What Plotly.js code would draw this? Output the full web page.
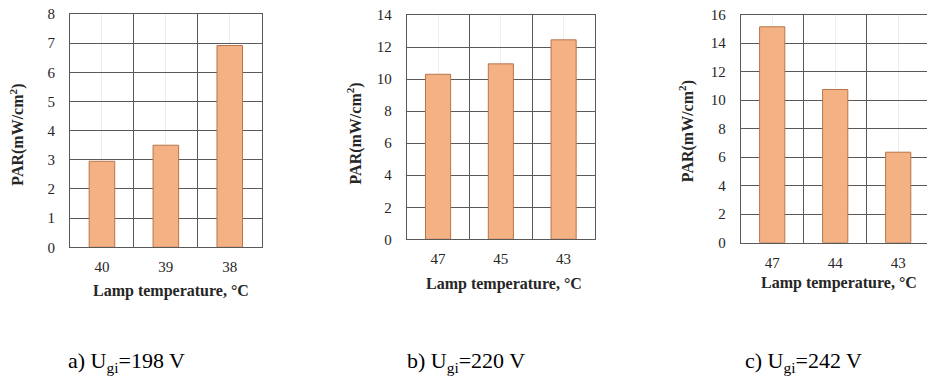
<!DOCTYPE html>
<html>
<head>
<meta charset="utf-8">
<script src="https://cdn.plot.ly/plotly-3.0.1.min.js"></script>
<style>html,body{margin:0;padding:0;background:#fff;}#chart{width:927px;height:376px;}</style>
</head>
<body>
<div id="chart"></div>
<script>
// Data
const cats1 = ['40', '39', '38'];
const vals1 = [2.95, 3.5, 6.92];
const cats2 = ['47', '45', '43'];
const vals2 = [10.3, 10.95, 12.45];
const cats3 = ['47', '44', '43'];
const vals3 = [15.15, 10.75, 6.35];
const captions = ['a) U<sub>gi</sub>=198 V', 'b) U<sub>gi</sub>=220 V', 'c) U<sub>gi</sub>=242 V'];
const yTitle = 'PAR(mW/cm<sup>2</sup>)';
const xTitle = 'Lamp temperature, °C';

const FONT = '"Liberation Serif", "Times New Roman", serif';
const GRID = '#595959';
const TXT = '#262626';

function barTrace(cats, vals, n) {
  return {
    type: 'bar',
    x: cats.map((_, i) => i),
    y: vals,
    width: 0.4,
    xaxis: 'x' + (n === 1 ? '' : n),
    yaxis: 'y' + (n === 1 ? '' : n),
    marker: {color: '#F4B183', line: {color: '#B8754A', width: 1}},
    hoverinfo: 'skip'
  };
}

function xAxis(cats, dom, rng) {
  return {
    domain: dom,
    range: rng,
    tickmode: 'array',
    tickvals: cats.map((_, i) => i),
    ticktext: cats,
    showgrid: true,
    gridcolor: '#eeeeee',
    gridwidth: 1,
    zeroline: false,
    showline: true,
    linecolor: GRID,
    linewidth: 1,
    mirror: true,
    ticks: '',
    ticklabelstandoff: 6,
    tickfont: {family: FONT, size: 15, color: TXT},
    minor: {tickmode: 'linear', tick0: 0.5, dtick: 1, showgrid: true, gridcolor: GRID, gridwidth: 1, ticks: ''},
    fixedrange: true
  };
}

function yAxis(dom, max, dt, anchor) {
  return {
    domain: dom,
    range: [0, max],
    dtick: dt,
    tick0: 0,
    showgrid: true,
    gridcolor: GRID,
    gridwidth: 1,
    zeroline: false,
    showline: true,
    linecolor: GRID,
    linewidth: 1,
    mirror: true,
    ticks: '',
    ticklabelstandoff: 11,
    anchor: anchor,
    tickfont: {family: FONT, size: 15, color: TXT},
    fixedrange: true
  };
}

const W = 927, H = 376;
const px = v => v / W;
const py = v => 1 - v / H;

const layout = {
  width: W, height: H,
  margin: {l: 0, r: 0, t: 0, b: 0},
  paper_bgcolor: '#ffffff',
  plot_bgcolor: '#ffffff',
  showlegend: false,
  font: {family: FONT, color: TXT},
  xaxis: Object.assign(xAxis(cats1, [px(70), px(261.7)], [-0.5, 2.5]), {anchor: 'y'}),
  yaxis: yAxis([py(247.3), py(14)], 8, 1, 'x'),
  xaxis2: Object.assign(xAxis(cats2, [px(406.7), px(595)], [-0.5, 2.5]), {anchor: 'y2'}),
  yaxis2: yAxis([py(239.3), py(15)], 14, 2, 'x2'),
  xaxis3: Object.assign(xAxis(cats3, [px(740.7), 1], [-0.5, 2.457]), {anchor: 'y3'}),
  yaxis3: yAxis([py(242.7), py(14.7)], 16, 2, 'x3'),
  annotations: []
};

const yTitlePos = [[16.7, 135], [355, 133.5], [686.7, 131.5]];
const xTitlePos = [[171, 291], [504, 284], [839, 283]];
const capPos = [[66, 362], [404.5, 362], [742.5, 362]];

for (let i = 0; i < 3; i++) {
  layout.annotations.push({
    xref: 'paper', yref: 'paper', x: px(yTitlePos[i][0]), y: py(yTitlePos[i][1]),
    text: '<b>' + yTitle + '</b>', textangle: -90, showarrow: false,
    xanchor: 'center', yanchor: 'middle',
    font: {family: FONT, size: 16, color: TXT}
  });
  layout.annotations.push({
    xref: 'paper', yref: 'paper', x: px(xTitlePos[i][0]), y: py(xTitlePos[i][1]),
    text: '<b>' + xTitle + '</b>', showarrow: false,
    xanchor: 'center', yanchor: 'middle',
    font: {family: FONT, size: 16, color: TXT}
  });
  layout.annotations.push({
    xref: 'paper', yref: 'paper', x: px(capPos[i][0]), y: py(capPos[i][1]),
    text: captions[i], showarrow: false,
    xanchor: 'left', yanchor: 'middle',
    font: {family: FONT, size: 22, color: '#000000'}
  });
}

const data = [barTrace(cats1, vals1, 1), barTrace(cats2, vals2, 2), barTrace(cats3, vals3, 3)];
Plotly.newPlot('chart', data, layout, {displayModeBar: false, staticPlot: true});
</script>
</body>
</html>
